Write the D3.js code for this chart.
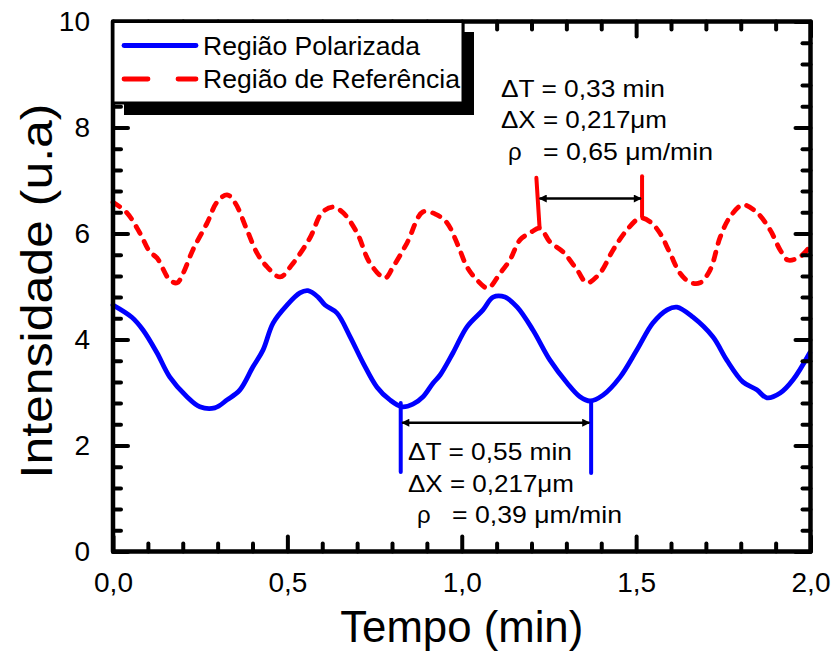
<!DOCTYPE html>
<html>
<head>
<meta charset="utf-8">
<script src="https://cdn.jsdelivr.net/npm/d3@7"></script>
<style>
html,body{margin:0;padding:0;background:#fff;}
svg{display:block;font-family:"Liberation Sans",Arial,sans-serif;}
</style>
</head>
<body>
<svg id="chart" width="833" height="652"></svg>
<script>
// ---- data ----
const tPolar = [0,0.054,0.086,0.126,0.163,0.212,0.249,0.292,0.327,0.364,0.401,0.430,0.459,0.499,0.536,0.559,0.588,0.608,0.642,0.680,0.717,0.757,0.794,0.829,0.860,0.889,0.918,0.938,0.975,1.015,1.061,1.090,1.124,1.159,1.204,1.253,1.302,1.339,1.368,1.405,1.454,1.502,1.548,1.589,1.617,1.663,1.720,1.760,1.806,1.846,1.875,1.913,1.950,1.998];
const vPolar = [4.65,4.42,4.18,3.75,3.29,2.92,2.73,2.71,2.86,3.05,3.48,3.80,4.31,4.65,4.88,4.92,4.80,4.65,4.50,4.05,3.56,3.10,2.86,2.73,2.78,2.92,3.18,3.33,3.75,4.24,4.56,4.80,4.80,4.61,4.18,3.61,3.18,2.92,2.84,2.95,3.29,3.80,4.31,4.56,4.61,4.42,4.05,3.61,3.20,3.05,2.90,2.99,3.24,3.75];
const tRef = [0,0.040,0.077,0.106,0.126,0.163,0.184,0.201,0.229,0.270,0.298,0.327,0.350,0.384,0.413,0.442,0.479,0.513,0.565,0.599,0.631,0.660,0.700,0.737,0.780,0.803,0.843,0.889,0.929,0.958,0.989,1.015,1.044,1.075,1.110,1.138,1.167,1.196,1.224,1.253,1.291,1.331,1.359,1.396,1.434,1.474,1.511,1.540,1.568,1.597,1.626,1.654,1.683,1.712,1.741,1.769,1.806,1.847,1.884,1.913,1.935,1.970,1.998];
const vRef = [6.59,6.39,6.01,5.65,5.54,5.12,5.07,5.25,5.69,6.20,6.59,6.73,6.58,6.07,5.63,5.37,5.18,5.41,5.92,6.39,6.50,6.39,6.01,5.44,5.16,5.37,5.82,6.41,6.35,6.20,5.78,5.37,5.12,4.97,5.25,5.50,5.88,6.01,6.10,5.84,5.65,5.31,5.07,5.25,5.69,6.07,6.29,6.22,6.01,5.63,5.25,5.08,5.07,5.31,5.93,6.31,6.54,6.39,6.07,5.69,5.50,5.56,5.75];
const seriesNames = ["Região Polarizada","Região de Referência"];
const xTicks = [0,0.5,1.0,1.5,2.0];
const yTicks = [0,2,4,6,8,10];
const xTitle = "Tempo (min)";
const yTitle = "Intensidade (u.a)";
// annotation markers (data units)
const refMarkers = [{t0:1.214,t1:1.223,y0:7.05,y1:6.12},{t0:1.517,t1:1.517,y0:7.08,y1:6.32}];
const refArrow = {t0:1.223,t1:1.514,y:6.66};
const refText = ["ΔT = 0,33 min","ΔX = 0,217μm","= 0,65 μm/min"];
const polMarkers = [{t0:0.825,t1:0.825,y0:2.80,y1:1.50},{t0:1.371,t1:1.371,y0:2.82,y1:1.48}];
const polArrow = {t0:0.829,t1:1.366,y:2.43};
const polText = ["ΔT = 0,55 min","ΔX = 0,217μm","= 0,39 μm/min"];

// ---- layout ----
const L=113, R=810.5, T=21.5, B=551.5;
const svg = d3.select("#chart");
const x = d3.scaleLinear().domain([0,2]).range([L,R]);
const y = d3.scaleLinear().domain([0,10]).range([B,T]);
const fmt = d => d3.format(".1f")(d).replace(".",",");
const blue="#0000ff", red="#ff0000";

const line = d3.line().x(d=>x(d[0])).y(d=>y(d[1])).curve(d3.curveCatmullRom.alpha(0.5));
const polData = tPolar.map((t,i)=>[t,vPolar[i]]);
const refData = tRef.map((t,i)=>[t,vRef[i]]);

svg.append("path").datum(refData).attr("d",line)
  .attr("fill","none").attr("stroke",red).attr("stroke-width",4.8)
  .attr("stroke-dasharray","8,9").attr("stroke-linecap","round").attr("stroke-linejoin","round");
svg.append("path").datum(polData).attr("d",line)
  .attr("fill","none").attr("stroke",blue).attr("stroke-width",4.8)
  .attr("stroke-linecap","round").attr("stroke-linejoin","round");

// ---- axes ----
const xMinor = d3.range(0,2.001,0.1).filter(v=>Math.abs(v*2-Math.round(v*2))>1e-6);
const yMinor = d3.range(0,10.001,0.4).filter(v=>Math.abs(v/2-Math.round(v/2))>1e-6);
function styleAxis(g){
  g.select(".domain").remove();
  g.selectAll(".tick line").attr("stroke","#000").attr("stroke-width",4).attr("stroke-linecap","round");
  g.selectAll(".tick text").attr("fill","#000").attr("font-family","Liberation Sans, Arial, sans-serif");
}
const MAJ=15, MIN=8;
// bottom
svg.append("g").attr("transform",`translate(0,${B})`)
  .call(d3.axisBottom(x).tickValues(xTicks).tickSizeInner(-MAJ).tickSizeOuter(0).tickPadding(MAJ+6).tickFormat(fmt))
  .call(styleAxis).call(g=>g.selectAll(".tick text").attr("font-size",28));
svg.append("g").attr("transform",`translate(0,${B})`)
  .call(d3.axisBottom(x).tickValues(xMinor).tickSizeInner(-MIN).tickSizeOuter(0).tickFormat(""))
  .call(styleAxis);
// top
svg.append("g").attr("transform",`translate(0,${T})`)
  .call(d3.axisTop(x).tickValues(xTicks).tickSizeInner(-MAJ).tickSizeOuter(0).tickFormat(""))
  .call(styleAxis);
svg.append("g").attr("transform",`translate(0,${T})`)
  .call(d3.axisTop(x).tickValues(xMinor).tickSizeInner(-MIN).tickSizeOuter(0).tickFormat(""))
  .call(styleAxis);
// left
svg.append("g").attr("transform",`translate(${L},0)`)
  .call(d3.axisLeft(y).tickValues(yTicks).tickSizeInner(-MAJ).tickSizeOuter(0).tickPadding(MAJ+8).tickFormat(d3.format("d")))
  .call(styleAxis).call(g=>g.selectAll(".tick text").attr("font-size",28));
svg.append("g").attr("transform",`translate(${L},0)`)
  .call(d3.axisLeft(y).tickValues(yMinor).tickSizeInner(-MIN).tickSizeOuter(0).tickFormat(""))
  .call(styleAxis);
// right
svg.append("g").attr("transform",`translate(${R},0)`)
  .call(d3.axisRight(y).tickValues(yTicks).tickSizeInner(-MAJ).tickSizeOuter(0).tickFormat(""))
  .call(styleAxis);
svg.append("g").attr("transform",`translate(${R},0)`)
  .call(d3.axisRight(y).tickValues(yMinor).tickSizeInner(-MIN).tickSizeOuter(0).tickFormat(""))
  .call(styleAxis);

// frame
svg.append("rect").attr("x",L).attr("y",T).attr("width",R-L).attr("height",B-T)
  .attr("fill","none").attr("stroke","#000").attr("stroke-width",4.5).attr("stroke-linejoin","round");

// axis titles
svg.append("text").attr("x",(L+R)/2).attr("y",642).attr("text-anchor","middle")
  .attr("font-size",44).attr("textLength",243).attr("lengthAdjust","spacingAndGlyphs").text(xTitle);
svg.append("text").attr("transform",`translate(52,291) rotate(-90)`).attr("text-anchor","middle")
  .attr("font-size",44).attr("textLength",375).attr("lengthAdjust","spacingAndGlyphs").text(yTitle);

// ---- legend ----
const lg = svg.append("g");
lg.append("rect").attr("x",124).attr("y",32).attr("width",350).attr("height",83).attr("fill","#000");
lg.append("rect").attr("x",L).attr("y",T).attr("width",350).attr("height",81.5)
  .attr("fill","#fff").attr("stroke","#000").attr("stroke-width",3);
lg.append("line").attr("x1",124).attr("x2",196).attr("y1",45.5).attr("y2",45.5)
  .attr("stroke",blue).attr("stroke-width",4.8).attr("stroke-linecap","round");
lg.append("line").attr("x1",124).attr("x2",196).attr("y1",79).attr("y2",79)
  .attr("stroke",red).attr("stroke-width",4.8).attr("stroke-linecap","round").attr("stroke-dasharray","24,30");
lg.append("text").attr("x",203).attr("y",55).attr("font-size",26)
  .attr("textLength",217).attr("lengthAdjust","spacingAndGlyphs").text(seriesNames[0]);
lg.append("text").attr("x",203).attr("y",87.5).attr("font-size",26)
  .attr("textLength",257).attr("lengthAdjust","spacingAndGlyphs").text(seriesNames[1]);

// ---- annotations ----
const defs = svg.append("defs");
defs.append("marker").attr("id","ah").attr("viewBox","0 0 10 10").attr("refX",9).attr("refY",5)
  .attr("markerWidth",4).attr("markerHeight",3.2).attr("orient","auto-start-reverse").attr("markerUnits","strokeWidth")
  .append("path").attr("d","M0,0 L10,5 L0,10 z").attr("fill","#000");

function annot(markers, arrow, color, lines, tx, ty0, dy, rhoDx, eqDx){
  markers.forEach(m=>{
    svg.append("line").attr("x1",x(m.t0)).attr("y1",y(m.y0)).attr("x2",x(m.t1)).attr("y2",y(m.y1))
      .attr("stroke",color).attr("stroke-width",4).attr("stroke-linecap","round");
  });
  svg.append("line").attr("x1",x(arrow.t0)).attr("x2",x(arrow.t1)).attr("y1",y(arrow.y)).attr("y2",y(arrow.y))
    .attr("stroke","#000").attr("stroke-width",2.5)
    .attr("marker-start","url(#ah)").attr("marker-end","url(#ah)");
  const lens=[164,166,170];
  svg.append("text").attr("x",tx).attr("y",ty0).attr("font-size",24)
    .attr("textLength",lens[0]).attr("lengthAdjust","spacingAndGlyphs").text(lines[0]);
  svg.append("text").attr("x",tx).attr("y",ty0+dy).attr("font-size",24)
    .attr("textLength",lens[1]).attr("lengthAdjust","spacingAndGlyphs").text(lines[1]);
  svg.append("text").attr("x",tx+rhoDx).attr("y",ty0+2*dy).attr("font-size",24).text("ρ");
  svg.append("text").attr("x",tx+eqDx).attr("y",ty0+2*dy).attr("font-size",24)
    .attr("textLength",lens[2]).attr("lengthAdjust","spacingAndGlyphs").text(lines[2]);
}
annot(refMarkers, refArrow, red, refText, 501, 96.7, 31.7, 7, 42);
annot(polMarkers, polArrow, blue, polText, 408, 460, 31.7, 9, 44);
</script>
</body>
</html>
